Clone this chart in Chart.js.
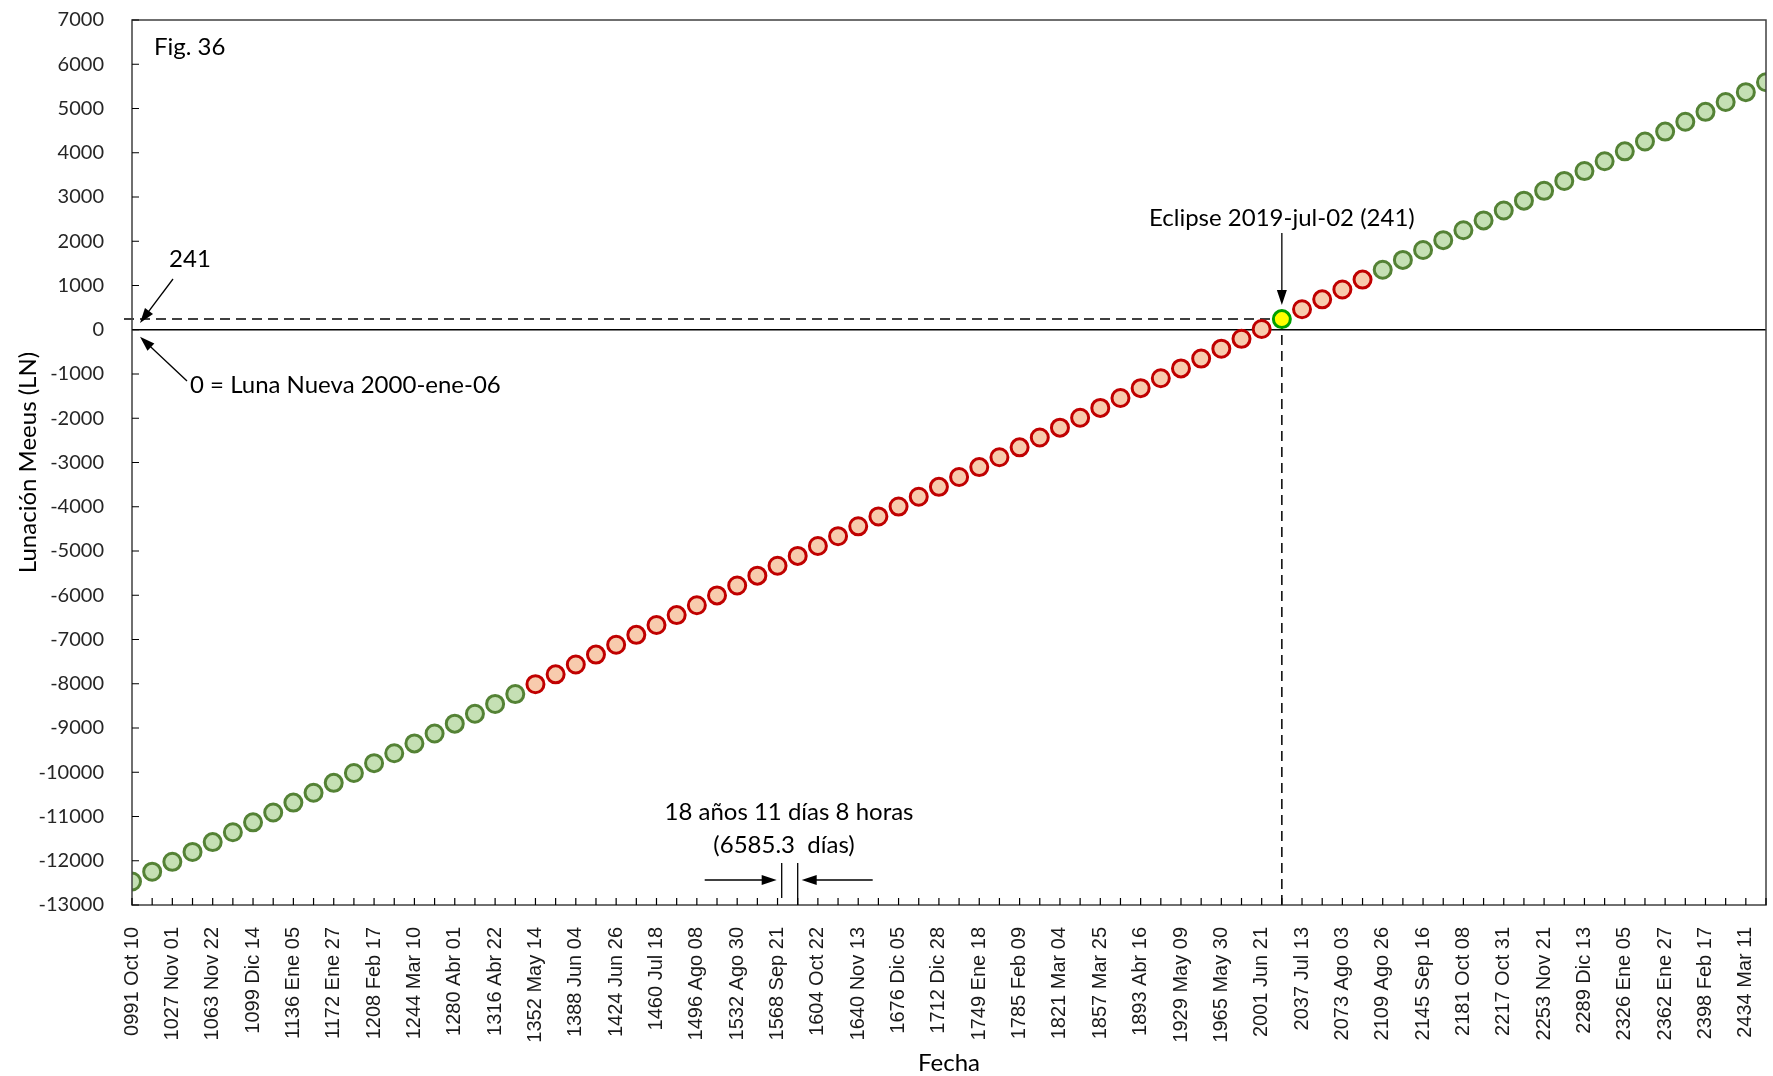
<!DOCTYPE html>
<html>
<head>
<meta charset="utf-8">
<script src="https://cdn.jsdelivr.net/npm/chart.js@4.4.0/dist/chart.umd.min.js"></script>
<style>
  html, body { margin: 0; padding: 0; background: #fff; }
  #wrap { width: 1773px; height: 1076px; }
</style>
</head>
<body>
<div id="wrap"><canvas id="grafico"></canvas></div>
<script>
// Etiquetas de fecha (una cada dos puntos de la serie)
const fechas = [
    '0991 Oct 10', '1027 Nov 01', '1063 Nov 22', '1099 Dic 14', '1136 Ene 05',
    '1172 Ene 27', '1208 Feb 17', '1244 Mar 10', '1280 Abr 01', '1316 Abr 22',
    '1352 May 14', '1388 Jun 04', '1424 Jun 26', '1460 Jul 18', '1496 Ago 08',
    '1532 Ago 30', '1568 Sep 21', '1604 Oct 22', '1640 Nov 13', '1676 Dic 05',
    '1712 Dic 28', '1749 Ene 18', '1785 Feb 09', '1821 Mar 04', '1857 Mar 25',
    '1893 Abr 16', '1929 May 09', '1965 May 30', '2001 Jun 21', '2037 Jul 13',
    '2073 Ago 03', '2109 Ago 26', '2145 Sep 16', '2181 Oct 08', '2217 Oct 31',
    '2253 Nov 21', '2289 Dic 13', '2326 Ene 05', '2362 Ene 27', '2398 Feb 17',
    '2434 Mar 11'
];

// Lunaciones Meeus (LN) de la serie, en orden
const verdeInicio = [
    -12470, -12247, -12024, -11801, -11578, -11355, -11132, -10909, -10686, -10463,
    -10240, -10017, -9794, -9571, -9348, -9125, -8902, -8679, -8456, -8233
];
const rojoAntes = [
    -8010, -7787, -7564, -7341, -7118, -6895, -6672, -6449, -6226, -6003,
    -5780, -5557, -5334, -5111, -4888, -4665, -4442, -4219, -3996, -3773,
    -3550, -3327, -3104, -2881, -2658, -2435, -2212, -1989, -1766, -1543,
    -1320, -1097, -874, -651, -428, -205, 18
];
const eclipse = [241];
const rojoDespues = [464, 687, 910, 1133];
const verdeFin = [
    1356, 1579, 1802, 2025, 2248, 2471, 2694, 2917, 3140, 3363,
    3586, 3809, 4032, 4255, 4478, 4701, 4924, 5147, 5370, 5593
];

const yMin = -13000;
const yMax = 7000;
const yPaso = 1000;

// Construye los puntos {x: indice, y: LN} en orden
let indice = 0;
const aPuntos = arr => arr.map(v => ({ x: indice++, y: v }));
const ptsVerdeInicio = aPuntos(verdeInicio);
const ptsRojoAntes = aPuntos(rojoAntes);
const ptsEclipse = aPuntos(eclipse);
const ptsRojoDespues = aPuntos(rojoDespues);
const ptsVerdeFin = aPuntos(verdeFin);
const ultimo = indice - 1;
const iEclipse = ptsEclipse[0].x;

const fuente = 'Lato, "Open Sans", sans-serif';

// Dibuja una flecha de (x1,y1) a (x2,y2) con la punta en (x2,y2)
const flecha = (ctx, x1, y1, x2, y2) => {
    const ang = Math.atan2(y2 - y1, x2 - x1);
    const largo = 15, ancho = 5;
    ctx.beginPath();
    ctx.moveTo(x1, y1);
    ctx.lineTo(x2 - Math.cos(ang) * largo * 0.8, y2 - Math.sin(ang) * largo * 0.8);
    ctx.stroke();
    ctx.beginPath();
    ctx.moveTo(x2, y2);
    ctx.lineTo(x2 - Math.cos(ang) * largo - Math.sin(ang) * ancho, y2 - Math.sin(ang) * largo + Math.cos(ang) * ancho);
    ctx.lineTo(x2 - Math.cos(ang) * largo + Math.sin(ang) * ancho, y2 - Math.sin(ang) * largo - Math.cos(ang) * ancho);
    ctx.closePath();
    ctx.fill();
};

const anotaciones = {
    id: 'anotaciones',
    beforeDatasetsDraw(chart) {
        const { ctx, chartArea: a, scales: { x, y } } = chart;
        ctx.save();
        ctx.strokeStyle = '#000';

        // Linea del cero
        ctx.lineWidth = 1.5;
        ctx.beginPath();
        ctx.moveTo(a.left, y.getPixelForValue(0));
        ctx.lineTo(a.right, y.getPixelForValue(0));
        ctx.stroke();

        // Lineas discontinuas hacia el eclipse
        const ex = x.getPixelForValue(iEclipse);
        const ey = y.getPixelForValue(eclipse[0]);
        ctx.setLineDash([10, 6]);
        ctx.beginPath();
        ctx.moveTo(a.left - 8, ey);
        ctx.lineTo(ex, ey);
        ctx.moveTo(ex, ey);
        ctx.lineTo(ex, a.bottom + 4);
        ctx.stroke();
        ctx.restore();
    },
    afterDatasetsDraw(chart) {
        const { ctx, chartArea: a, scales: { x, y } } = chart;
        ctx.save();

        // Marco del area de trazado
        ctx.strokeStyle = '#404040';
        ctx.lineWidth = 1.5;
        ctx.strokeRect(a.left, a.top, a.right - a.left, a.bottom - a.top);

        // Marcas de los ejes (hacia dentro)
        ctx.strokeStyle = '#000';
        ctx.lineWidth = 1.2;
        ctx.beginPath();
        for (let v = yMin; v <= yMax; v += yPaso) {
            const py = y.getPixelForValue(v);
            ctx.moveTo(a.left, py);
            ctx.lineTo(a.left + 7, py);
        }
        for (let i = 0; i <= ultimo; i++) {
            const px = x.getPixelForValue(i);
            ctx.moveTo(px, a.bottom);
            ctx.lineTo(px, a.bottom - 7);
        }
        ctx.stroke();

        ctx.fillStyle = '#000';
        ctx.strokeStyle = '#000';
        ctx.lineWidth = 1.3;

        // Textos
        ctx.font = '24px ' + fuente;
        ctx.textBaseline = 'middle';
        ctx.textAlign = 'left';
        ctx.fillText('Fig. 36', a.left + 22, a.top + 27);
        ctx.fillText('0 = Luna Nueva 2000-ene-06', 190, 385);

        ctx.textAlign = 'center';
        ctx.fillText('241', 190, 259);
        const ex = x.getPixelForValue(iEclipse);
        ctx.fillText('Eclipse 2019-jul-02 (241)', ex, 218);
        ctx.fillText('18 años 11 días 8 horas', 789, 812);
        ctx.fillText('(6585.3  días)', 784, 845);

        // Flechas
        flecha(ctx, 173, 279, a.left + 8, y.getPixelForValue(eclipse[0]) + 4);
        flecha(ctx, 187, 381, a.left + 8, y.getPixelForValue(0) + 7);
        flecha(ctx, ex, 233, ex, y.getPixelForValue(eclipse[0]) - 14);

        // Indicacion del periodo saros
        const x2 = x.getPixelForValue(33);
        const x1 = x2 - 16;
        ctx.beginPath();
        ctx.moveTo(x1, 863);
        ctx.lineTo(x1, a.bottom - 7);
        ctx.moveTo(x2, 863);
        ctx.lineTo(x2, a.bottom);
        ctx.stroke();
        flecha(ctx, x1 - 77, 880, x1 - 5, 880);
        flecha(ctx, x2 + 75, 880, x2 + 4, 880);

        // Titulos de los ejes
        ctx.font = '24px ' + fuente;
        ctx.fillText('Fecha', (a.left + a.right) / 2, 1063);
        ctx.translate(28, (a.top + a.bottom) / 2);
        ctx.rotate(-Math.PI / 2);
        ctx.fillText('Lunación Meeus (LN)', 0, 0);
        ctx.restore();
    }
};

const estiloVerde = { pointBackgroundColor: '#c5e0b4', pointBorderColor: '#548235' };
const estiloRojo = { pointBackgroundColor: '#f8cbad', pointBorderColor: '#c00000' };

const comun = {
    type: 'scatter',
    showLine: false,
    pointRadius: 8.5,
    pointHoverRadius: 8.5,
    pointBorderWidth: 3
};

new Chart(document.getElementById('grafico'), {
    type: 'scatter',
    data: {
        datasets: [
            { ...comun, label: 'Verde', data: [...ptsVerdeInicio, ...ptsVerdeFin], ...estiloVerde },
            { ...comun, label: 'Rojo', data: [...ptsRojoAntes, ...ptsRojoDespues], ...estiloRojo },
            { ...comun, label: 'Eclipse', data: ptsEclipse, pointBackgroundColor: '#ffff00', pointBorderColor: '#00a000' }
        ]
    },
    options: {
        responsive: true,
        maintainAspectRatio: false,
        animation: false,
        layout: { autoPadding: false, padding: { top: 20, right: 7, left: 0, bottom: 0 } },
        plugins: {
            legend: { display: false },
            tooltip: { enabled: false }
        },
        scales: {
            x: {
                type: 'linear',
                min: 0,
                max: ultimo,
                grid: { display: false },
                border: { display: false },
                afterFit: s => {
                    s.height = 171;
                    s.paddingLeft = 0;
                    s.paddingRight = 0;
                },
                afterBuildTicks: s => { s.ticks = fechas.map((_, i) => ({ value: i * 2 })); },
                ticks: {
                    autoSkip: false,
                    minRotation: 90,
                    maxRotation: 90,
                    padding: 14,
                    color: '#1a1a1a',
                    font: { family: '"Liberation Sans", Arial, sans-serif', size: 20 },
                    callback: v => fechas[v / 2] ?? ''
                }
            },
            y: {
                min: yMin,
                max: yMax,
                grid: { display: false },
                border: { display: false },
                afterFit: s => {
                    s.width = 132;
                    s.paddingTop = 0;
                    s.paddingBottom = 0;
                },
                ticks: {
                    stepSize: yPaso,
                    padding: 20,
                    color: '#262626',
                    font: { family: fuente, size: 20 },
                    callback: v => String(v)
                }
            }
        }
    },
    plugins: [anotaciones]
});
</script>
</body>
</html>
